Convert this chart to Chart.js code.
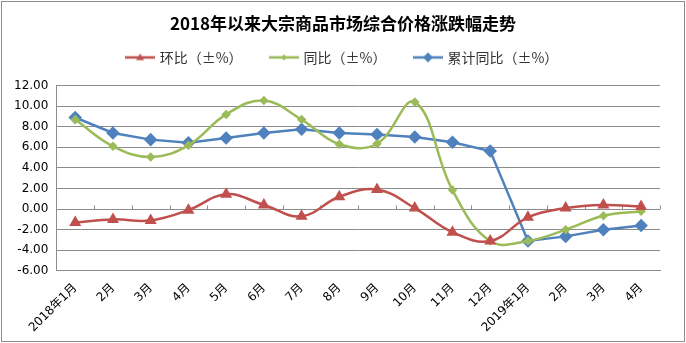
<!DOCTYPE html>
<html>
<head>
<meta charset="utf-8">
<script src="https://cdn.jsdelivr.net/npm/chart.js@4/dist/chart.umd.min.js"></script>
<style>
  html, body { margin: 0; padding: 0; background: #fff; }
  #wrap { width: 682px; height: 339px; margin: 1px; border: 1px solid #8c8c8c; }
</style>
</head>
<body>
<div id="wrap"><canvas id="chart"></canvas></div>
<script>
const months = ['2018年1月', '2月', '3月', '4月', '5月', '6月', '7月', '8月', '9月', '10月', '11月', '12月', '2019年1月', '2月', '3月', '4月'];
const momChange = [-1.3, -1.0, -1.1, -0.1, 1.45, 0.4, -0.7, 1.2, 1.9, 0.1, -2.25, -3.1, -0.8, 0.1, 0.4, 0.25];
const yoyChange = [8.7, 6.1, 5.07, 6.2, 9.2, 10.55, 8.7, 6.3, 6.35, 10.4, 1.85, -3.1, -3.1, -2.0, -0.65, -0.2];
const cumYoyChange = [8.9, 7.4, 6.75, 6.45, 6.9, 7.4, 7.75, 7.4, 7.25, 7.0, 6.5, 5.65, -3.1, -2.65, -2.0, -1.6];
const yTicks = { min: -6, max: 12, step: 2 };

const RED = '#C0504D';
const GREEN = '#9BBB59';
const BLUE = '#4F81BD';

const SW_LINE = 30;

// legend swatch: short line with the marker in the middle
function swatch(color, shape, r) {
  const c = document.createElement('canvas');
  c.width = SW_LINE; c.height = 12;
  const g = c.getContext('2d');
  const mid = SW_LINE / 2;
  g.strokeStyle = color; g.fillStyle = color; g.lineWidth = 2.5;
  g.beginPath(); g.moveTo(0, 6); g.lineTo(SW_LINE, 6); g.stroke();
  g.beginPath();
  if (shape === 'triangle') {
    g.moveTo(mid, 6 - r); g.lineTo(mid + r, 6 + r * 0.7); g.lineTo(mid - r, 6 + r * 0.7);
  } else {
    g.moveTo(mid, 6 - r); g.lineTo(mid + r, 6); g.lineTo(mid, 6 + r); g.lineTo(mid - r, 6);
  }
  g.closePath(); g.fill();
  return c;
}

// small tick marks on the zero line between categories
const zeroTicks = {
  id: 'zeroTicks',
  beforeDatasetsDraw(chart) {
    const { ctx, scales: { x, y } } = chart;
    const y0 = Math.round(y.getPixelForValue(0)) + 0.5;
    ctx.save();
    ctx.strokeStyle = '#8c8c8c';
    ctx.lineWidth = 1;
    ctx.beginPath();
    for (let i = 0; i <= months.length; i++) {
      const px = Math.round(x.getPixelForValue(i - 0.5)) + 0.5;
      ctx.moveTo(px, y0); ctx.lineTo(px, y0 - 4);
    }
    ctx.stroke();
    ctx.restore();
  }
};

const ctx = document.getElementById('chart').getContext('2d');
new Chart(ctx, {
  type: 'line',
  data: {
    labels: months,
    datasets: [
      {
        label: '环比（±%）',
        data: momChange,
        borderColor: RED, backgroundColor: RED,
        borderWidth: 2.5, tension: 0.4,
        pointStyle: 'triangle', pointRadius: 4.5,
        legendStyle: swatch(RED, 'triangle', 4)
      },
      {
        label: '同比（±%）',
        data: yoyChange,
        borderColor: GREEN, backgroundColor: GREEN,
        borderWidth: 2.5, tension: 0.4,
        pointStyle: 'rectRot', pointRadius: 3,
        legendStyle: swatch(GREEN, 'diamond', 3)
      },
      {
        label: '累计同比（±%）',
        data: cumYoyChange,
        borderColor: BLUE, backgroundColor: BLUE,
        borderWidth: 2.5, tension: 0,
        pointStyle: 'rectRot', pointRadius: 5,
        legendStyle: swatch(BLUE, 'diamond', 5)
      }
    ]
  },
  options: {
    responsive: true,
    maintainAspectRatio: false,
    animation: false,
    layout: { padding: { left: 4, right: 4, top: 4, bottom: 4 } },
    plugins: {
      title: {
        display: true,
        text: '2018年以来大宗商品市场综合价格涨跌幅走势',
        color: '#000',
        font: { family: '"Noto Sans CJK SC"', size: 17, weight: 'bold' },
        padding: { top: 7, bottom: -12 }
      },
      // empty subtitle used as a spacer between legend and plot
      subtitle: {
        display: true,
        text: ' ',
        weight: 500,
        font: { size: 1 },
        padding: { top: 0, bottom: 10 }
      },
      legend: {
        position: 'top',
        labels: {
          usePointStyle: true,
          pointStyleWidth: 25,
          generateLabels(chart) {
            return chart.data.datasets.map((ds, i) => ({
              text: ds.label,
              pointStyle: ds.legendStyle,
              fillStyle: ds.borderColor,
              strokeStyle: ds.borderColor,
              fontColor: '#333',
              lineWidth: 0,
              datasetIndex: i
            }));
          },
          font: { family: '"Noto Sans CJK SC"', size: 14 },
          color: '#333',
          padding: 29
        }
      },
      tooltip: { enabled: false }
    },
    scales: {
      x: {
        offset: true,
        grid: { display: false },
        border: { color: '#8c8c8c' },
        ticks: {
          minRotation: 45, maxRotation: 45,
          color: '#000',
          font: { family: '"DejaVu Sans", "Noto Sans CJK SC"', size: 12 },
          padding: 2
        }
      },
      y: {
        min: yTicks.min, max: yTicks.max,
        grid: { color: '#8c8c8c', drawTicks: false },
        border: { color: '#8c8c8c' },
        ticks: {
          stepSize: yTicks.step,
          color: '#000',
          padding: 8,
          font: { family: '"DejaVu Sans"', size: 12 },
          callback: v => v.toFixed(2)
        }
      },
      // invisible right axis, only reserves the empty margin right of the plot
      yRight: {
        position: 'right',
        min: yTicks.min, max: yTicks.max,
        grid: { display: false },
        border: { display: false },
        ticks: { display: false },
        afterFit(scale) { scale.width = 20; }
      }
    }
  },
  plugins: [zeroTicks]
});
</script>
</body>
</html>
